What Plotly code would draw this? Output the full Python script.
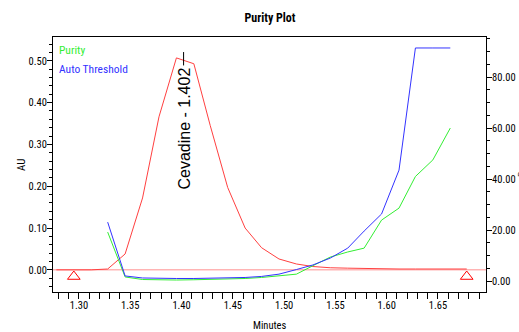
import plotly.graph_objects as go

# ---- data ----
time_min = [1.278, 1.295, 1.312, 1.328, 1.345, 1.362, 1.378, 1.395, 1.412, 1.428,
            1.445, 1.462, 1.478, 1.495, 1.512, 1.528, 1.545, 1.562, 1.578, 1.595,
            1.612, 1.628, 1.645, 1.662, 1.678]
au_values = [0.000, 0.000, 0.000, 0.002, 0.038, 0.172, 0.366, 0.507, 0.493, 0.345,
             0.197, 0.100, 0.053, 0.026, 0.014, 0.008, 0.005, 0.004, 0.003, 0.003,
             0.002, 0.002, 0.002, 0.002, 0.002]

angle_time = [1.328, 1.345, 1.362, 1.378, 1.395, 1.412, 1.428, 1.445, 1.462, 1.478,
              1.495, 1.512, 1.528, 1.545, 1.562, 1.578, 1.595, 1.612, 1.628, 1.645, 1.662]
purity_angle = [19.2, 1.6, 0.6, 0.4, 0.4, 0.5, 0.6, 0.8, 1.0, 1.4,
                2.0, 2.7, 6.0, 9.4, 11.4, 12.9, 23.9, 28.6, 41.0, 47.5, 60.0]
auto_threshold = [23.1, 2.0, 1.2, 1.0, 1.0, 1.0, 1.1, 1.2, 1.4, 1.8,
                  2.7, 4.5, 6.3, 9.0, 12.9, 19.6, 26.3, 43.5, 91.4, 91.4, 91.4]

baseline_time = [1.2747, 1.6968]
baseline_au = [0.0, 0.0]
integration_marks_time = [1.295, 1.678]
integration_marks_au = [-0.016, -0.016]

peak_name = "Cevadine"
peak_rt = 1.402
peak_top_au = [0.521, 0.489]
peak_label_au = 0.337

x_ticks = [1.30, 1.35, 1.40, 1.45, 1.50, 1.55, 1.60, 1.65]
y_ticks = [0.00, 0.10, 0.20, 0.30, 0.40, 0.50]
y2_ticks = [0.0, 20.0, 40.0, 60.0, 80.0]

FONT = "Roboto Condensed, Liberation Sans Narrow, Arial Narrow, sans-serif"

W, H = 519, 332
L, R, T, B = 53, 33, 37, 40
pw, ph = W - L - R, H - T - B


def px_x(px):
    return (px - L) / pw


def px_y(py):
    return 1 - (py - T) / ph


fig = go.Figure()
fig.add_trace(go.Scatter(x=baseline_time, y=baseline_au, mode="lines",
                         line=dict(color="#ff9090", width=1), hoverinfo="skip"))
fig.add_trace(go.Scatter(x=time_min, y=au_values, mode="lines",
                         line=dict(color="#ff4040", width=1)))
fig.add_trace(go.Scatter(x=integration_marks_time, y=integration_marks_au, mode="markers",
                         marker=dict(symbol="triangle-up-open", size=11, color="#ff0000",
                                     line=dict(width=1, color="#ff0000"))))
fig.add_trace(go.Scatter(x=[peak_rt, peak_rt], y=peak_top_au, mode="lines",
                         line=dict(color="black", width=1)))
fig.add_trace(go.Scatter(x=angle_time, y=purity_angle, mode="lines", yaxis="y2",
                         line=dict(color="#33ee33", width=1)))
fig.add_trace(go.Scatter(x=angle_time, y=auto_threshold, mode="lines", yaxis="y2",
                         line=dict(color="#3333ff", width=1)))

fig.add_annotation(x=peak_rt, y=peak_label_au, xref="x", yref="y",
                   text=f"{peak_name} - {peak_rt:.3f}", textangle=-90, showarrow=False,
                   xanchor="center", yanchor="middle", xshift=1,
                   font=dict(family="Liberation Sans, Arial, sans-serif", size=16, color="black"))

fig.add_annotation(x=px_x(57), y=px_y(50), xref="paper", yref="paper", text="Purity",
                   showarrow=False, xanchor="left", yanchor="middle",
                   font=dict(family=FONT, size=11.5, color="#33ee33"))
fig.add_annotation(x=px_x(57), y=px_y(69), xref="paper", yref="paper", text="Auto Threshold",
                   showarrow=False, xanchor="left", yanchor="middle",
                   font=dict(family=FONT, size=11.5, color="#3333ff"))
fig.add_annotation(x=px_x(21), y=px_y(165), xref="paper", yref="paper",
                   text="AU", textangle=-90, showarrow=False, xanchor="center", yanchor="middle",
                   font=dict(family=FONT, size=11, color="black"))
fig.add_annotation(x=px_x(522), y=px_y(160), xref="paper", yref="paper",
                   text="Degrees", textangle=-90, showarrow=False, xanchor="center", yanchor="middle",
                   font=dict(family=FONT, size=11, color="#555555"))
fig.add_annotation(x=px_x(270), y=px_y(325), xref="paper", yref="paper",
                   text="Minutes", showarrow=False, xanchor="center", yanchor="middle",
                   font=dict(family=FONT, size=10.5, color="black"))

axis_common = dict(showline=True, linecolor="black", linewidth=1, showgrid=False,
                   zeroline=False, automargin=False, tickcolor="black",
                   tickfont=dict(family=FONT, size=10.5, color="black"))

fig.update_layout(
    width=W, height=H,
    margin=dict(l=L, r=R, t=T, b=B, autoexpand=False),
    paper_bgcolor="white", plot_bgcolor="white",
    showlegend=False,
    title=dict(text="<b>Purity Plot</b>", x=px_x(270), xref="paper",
               y=1 - 18 / H, yref="container", yanchor="middle", xanchor="center",
               font=dict(family=FONT, size=12, color="black")),
    font=dict(family=FONT, size=10.5, color="black"),
    xaxis=dict(range=[1.2747, 1.6968], tickvals=x_ticks, tickformat=".2f",
               ticks="outside", ticklen=6, mirror=True, ticklabelstandoff=-3,
               minor=dict(dtick=0.01, tick0=1.3, ticks="outside", ticklen=6, tickcolor="black"),
               **axis_common),
    yaxis=dict(range=[-0.053, 0.557], tickvals=y_ticks, tickformat=".2f",
               ticks="outside", ticklen=5, mirror=True, ticklabelstandoff=-2,
               minor=dict(dtick=0.02, tick0=0, ticks="outside", ticklen=3, tickcolor="black"),
               **axis_common),
    yaxis2=dict(range=[-4.3, 95.7], tickvals=y2_ticks, tickformat=".2f",
                overlaying="y", side="right", ticklabelstandoff=-2,
                ticks="outside", ticklen=5,
                minor=dict(dtick=5, tick0=0, ticks="outside", ticklen=3, tickcolor="black"),
                **axis_common),
)

fig.write_html("out.html")
